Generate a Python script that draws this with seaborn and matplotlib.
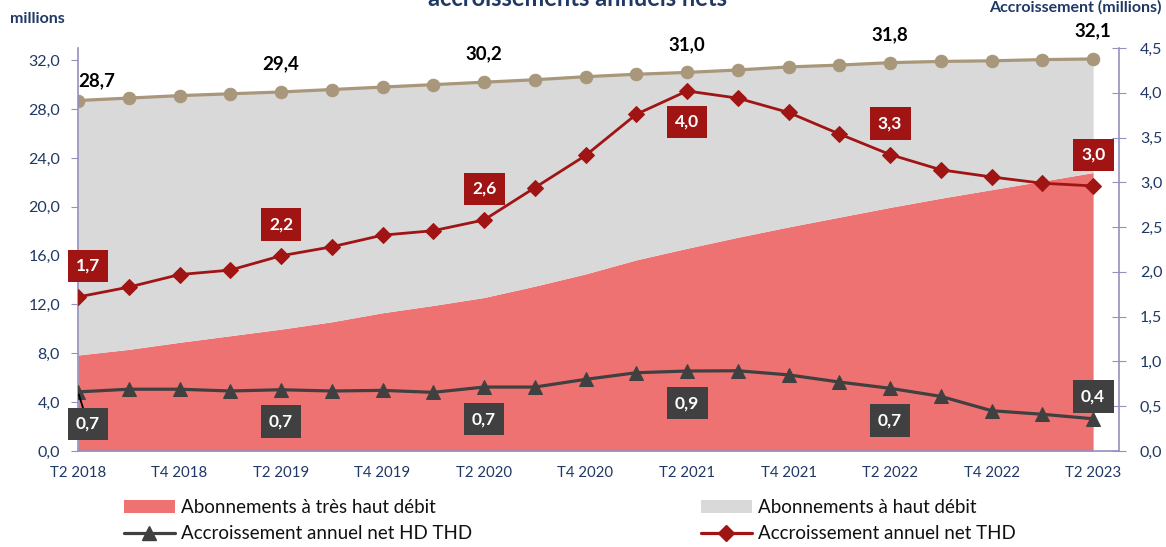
import pandas as pd
import numpy as np
import seaborn as sns
import matplotlib.pyplot as plt
from matplotlib.patches import Patch
from matplotlib.lines import Line2D

# Abonnements haut et très haut débit (millions) et accroissements annuels nets

quarters = ["T2 2018", "T3 2018", "T4 2018", "T1 2019", "T2 2019", "T3 2019", "T4 2019",
            "T1 2020", "T2 2020", "T3 2020", "T4 2020", "T1 2021", "T2 2021", "T3 2021",
            "T4 2021", "T1 2022", "T2 2022", "T3 2022", "T4 2022", "T1 2023", "T2 2023"]

abo_total = [28.7, 28.9, 29.1, 29.25, 29.4, 29.6, 29.8, 30.0, 30.2, 30.4, 30.65,
             30.85, 31.0, 31.2, 31.45, 31.6, 31.8, 31.9, 31.95, 32.05, 32.1]
abo_thd = [7.86, 8.32, 8.9, 9.44, 9.98, 10.58, 11.32, 11.92, 12.57, 13.5, 14.5,
           15.65, 16.6, 17.5, 18.35, 19.15, 19.95, 20.7, 21.4, 22.1, 22.8]
acc_thd = [1.72, 1.83, 1.97, 2.02, 2.18, 2.28, 2.41, 2.46, 2.58, 2.94, 3.30,
           3.76, 4.02, 3.94, 3.78, 3.54, 3.31, 3.14, 3.06, 2.99, 2.96]
acc_hd_thd = [0.66, 0.69, 0.69, 0.67, 0.684, 0.67, 0.677, 0.655, 0.714, 0.714, 0.80,
              0.874, 0.893, 0.896, 0.85, 0.77, 0.70, 0.61, 0.45, 0.41, 0.36]
label_idx = [0, 4, 8, 12, 16, 20]

df = pd.DataFrame({"quarter": quarters, "total": abo_total, "thd": abo_thd,
                   "acc_thd": acc_thd, "acc_hd_thd": acc_hd_thd})
df["pos"] = np.arange(len(df))

sns.set_style("white")
plt.rcParams["font.family"] = ["Lato", "DejaVu Sans"]

navy = "#1F3864"
spine_c = "#9490C0"
c_thd_area = "#EF7272"
c_hd_area = "#D9D9D9"
c_total = "#A8977A"
c_red = "#A01414"
c_dark = "#404040"

W, H, dpi = 1166, 547, 100
fig = plt.figure(figsize=(W / dpi, H / dpi), dpi=dpi)
ax = fig.add_axes([78 / W, 1 - 451 / H, (1119 - 78) / W, (451 - 48) / H])
ax2 = ax.twinx()

ax.fill_between(df.pos, 0, df.thd, color=c_thd_area, lw=0)
ax.fill_between(df.pos, df.thd, df.total, color=c_hd_area, lw=0)
sns.lineplot(data=df, x="pos", y="total", ax=ax, color=c_total, lw=2.3,
             marker="o", markersize=9, markeredgecolor=c_total)
sns.lineplot(data=df, x="pos", y="acc_thd", ax=ax2, color=c_red, lw=2,
             marker="D", markersize=8, markeredgecolor=c_red)
sns.lineplot(data=df, x="pos", y="acc_hd_thd", ax=ax2, color=c_dark, lw=2.3,
             marker="^", markersize=10, markeredgecolor=c_dark)

ax.set_xlim(0, 20.51)
ax.set_ylim(0, 33)
ax2.set_ylim(0, 4.5)
ax.set_xticks(df.pos[::2])
ax.set_xticklabels(df.quarter[::2])
yt = np.arange(0, 33, 4)
ax.set_yticks(yt)
ax.set_yticklabels([f"{v:.1f}".replace(".", ",") for v in yt])
yt2 = np.arange(0, 4.51, 0.5)
ax2.set_yticks(yt2)
ax2.set_yticklabels([f"{v:.1f}".replace(".", ",") for v in yt2])
for a in (ax, ax2):
    a.set_xlabel("")
    a.set_ylabel("")
    a.spines["top"].set_visible(False)
ax.spines["right"].set_visible(False)
ax2.spines["left"].set_visible(False)
ax2.spines["bottom"].set_visible(False)
for s in ("left", "bottom"):
    ax.spines[s].set_color(spine_c)
    ax.spines[s].set_linewidth(1.2)
ax2.spines["right"].set_color(spine_c)
ax2.spines["right"].set_linewidth(1.2)
ax.tick_params(axis="x", direction="out", length=5, color=spine_c, labelcolor=navy,
               labelsize=10.8, pad=6)
ax.tick_params(axis="y", direction="out", length=5, color=spine_c, labelcolor=navy,
               labelsize=11.5, pad=8)
ax2.tick_params(axis="y", direction="inout", length=10, color=spine_c, labelcolor=navy,
                labelsize=11.5, pad=10)


def fmt(v):
    return f"{v:.1f}".replace(".", ",")


# étiquettes des valeurs
for i in label_idx:
    dx = 19 if i == 0 else 0
    dy = 20 if i == 0 else 28
    ax.annotate(fmt(abo_total[i]), (i, abo_total[i]), xytext=(dx, dy),
                textcoords="offset pixels", ha="center", va="center",
                fontsize=13.5, fontweight="bold", color="black")

    dx = 10 if i == 0 else 0
    dy = -31 if i == 12 else 31
    ax2.annotate(fmt(acc_thd[i]), (i, acc_thd[i]), xytext=(dx, dy),
                 textcoords="offset pixels", ha="center", va="center",
                 fontsize=12.5, fontweight="bold", color="white",
                 bbox=dict(boxstyle="square,pad=0.48", fc=c_red, ec="none"))

    dy = 22 if i == 20 else -32
    arrow = dict(arrowstyle="-", color="black", lw=1.3, shrinkA=0, shrinkB=2) if i == 0 else None
    ax2.annotate(fmt(acc_hd_thd[i]), (i, acc_hd_thd[i]), xytext=(dx, dy),
                 textcoords="offset pixels", ha="center", va="center",
                 fontsize=12.5, fontweight="bold", color="white",
                 bbox=dict(boxstyle="square,pad=0.48", fc=c_dark, ec="none"),
                 arrowprops=arrow)

fig.text(10 / W, 1 - 19 / H, "millions", ha="left", va="center",
         fontsize=11.5, fontweight="bold", color=navy)
fig.text(1162 / W, 1 - 7 / H, "Accroissement (millions)", ha="right", va="center",
         fontsize=11.5, fontweight="bold", color=navy)
fig.text(577 / W, 1 - 6 / H, "accroissements annuels nets", ha="center", va="baseline",
         fontsize=17, fontweight="bold", color=navy)

handles = [
    Patch(facecolor=c_thd_area, edgecolor="none"),
    Line2D([], [], color=c_dark, lw=2.3, marker="^", markersize=10),
    Patch(facecolor=c_hd_area, edgecolor="none"),
    Line2D([], [], color=c_red, lw=2.3, marker="D", markersize=8),
]
labels = ["Abonnements à très haut débit", "Accroissement annuel net HD THD",
          "Abonnements à haut débit", "Accroissement annuel net THD"]
fig.legend(handles, labels, loc="upper left", bbox_to_anchor=(124 / W, 1 - 499 / H),
           ncol=2, frameon=False, fontsize=13.5, handlelength=2.7, handleheight=0.7,
           handletextpad=0.35, labelspacing=0.5, columnspacing=12.2, borderpad=0,
           borderaxespad=0, labelcolor="#111111")

fig.savefig("out.png", dpi=dpi)
